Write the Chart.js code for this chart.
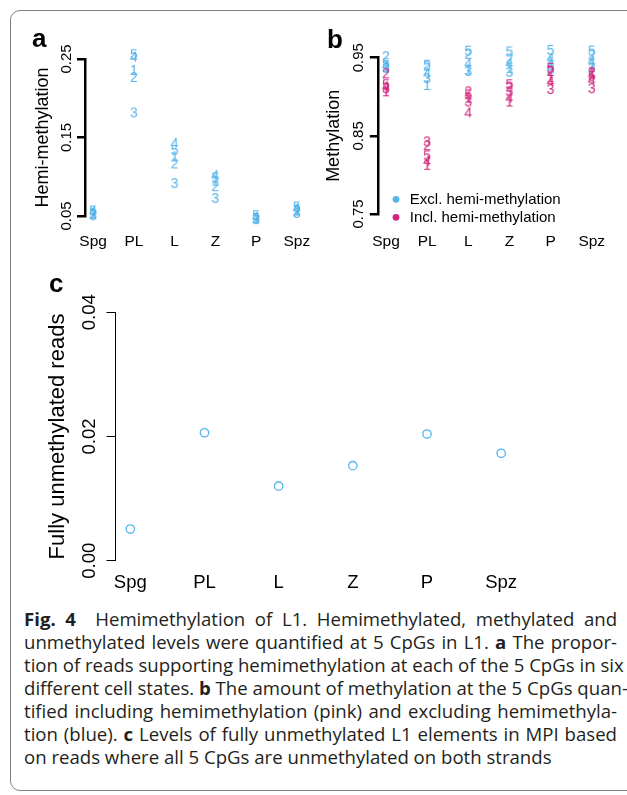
<!DOCTYPE html>
<html>
<head>
<meta charset="utf-8">
<script src="https://cdn.jsdelivr.net/npm/chart.js"></script>
<style>
  html, body { margin: 0; padding: 0; background: #fff; }
  body { width: 627px; height: 795px; position: relative; overflow: hidden; }
  .frame { position: absolute; left: 10px; top: 10px; width: 720px; height: 779px; border: 1.5px solid #808080; border-radius: 10px; }
  canvas { position: absolute; }
  #chartA { left: 0; top: 0; }
  #chartB { left: 318px; top: 0; }
  #chartC { left: 0; top: 265px; }
  .tag { position: absolute; font: bold 26px "Liberation Sans", Arial, sans-serif; line-height: 26px; color: #000; }
  .caption { position: absolute; left: 24px; top: 607px; width: 593px; font-family: "Open Sans", sans-serif; font-size: 18.6px; line-height: 23px; color: #231f20; }
  .caption div { text-align: justify; text-align-last: justify; white-space: nowrap; }
  .caption div.last { text-align-last: left; }
</style>
</head>
<body>
<div class="frame"></div>
<canvas id="chartA" width="318" height="265"></canvas>
<canvas id="chartB" width="309" height="265"></canvas>
<canvas id="chartC" width="627" height="330"></canvas>
<div class="tag" style="left:32px; top:25px;">a</div>
<div class="tag" style="left:327px; top:26px;">b</div>
<div class="tag" style="left:49px; top:270px;">c</div>
<div class="caption">
  <div><b>Fig. 4</b>&nbsp; Hemimethylation of L1. Hemimethylated, methylated and</div>
  <div>unmethylated levels were quantified at 5 CpGs in L1. <b>a</b> The propor-</div>
  <div>tion of reads supporting hemimethylation at each of the 5 CpGs in six</div>
  <div>different cell states. <b>b</b> The amount of methylation at the 5 CpGs quan-</div>
  <div>tified including hemimethylation (pink) and excluding hemimethyla-</div>
  <div>tion (blue). <b>c</b> Levels of fully unmethylated L1 elements in MPI based</div>
  <div class="last">on reads where all 5 CpGs are unmethylated on both strands</div>
</div>
<script>
const cellStates = ["Spg", "PL", "L", "Z", "P", "Spz"];
const cpgLabels = ["1", "2", "3", "4", "5"];

// panel a: hemi-methylation, one array per CpG (Spg..Spz)
const hemiCpg1 = [0.054, 0.236, 0.126, 0.095, 0.048, 0.058];
const hemiCpg2 = [0.053, 0.227, 0.117, 0.088, 0.047, 0.057];
const hemiCpg3 = [0.051, 0.182, 0.092, 0.073, 0.046, 0.054];
const hemiCpg4 = [0.056, 0.253, 0.143, 0.102, 0.049, 0.060];
const hemiCpg5 = [0.057, 0.256, 0.134, 0.099, 0.051, 0.062];
const yTicksA = [0.05, 0.15, 0.25];

// panel b: methylation excluding hemi-methylation (blue)
const exclCpg1 = [0.938, 0.915, 0.935, 0.937, 0.945, 0.942];
const exclCpg2 = [0.952, 0.940, 0.955, 0.949, 0.940, 0.954];
const exclCpg3 = [0.937, 0.924, 0.933, 0.932, 0.935, 0.937];
const exclCpg4 = [0.940, 0.930, 0.943, 0.943, 0.950, 0.946];
const exclCpg5 = [0.943, 0.941, 0.959, 0.958, 0.960, 0.959];
// panel b: methylation including hemi-methylation (pink)
const inclCpg1 = [0.907, 0.813, 0.899, 0.894, 0.925, 0.930];
const inclCpg2 = [0.930, 0.838, 0.907, 0.913, 0.933, 0.932];
const inclCpg3 = [0.911, 0.843, 0.894, 0.907, 0.910, 0.911];
const inclCpg4 = [0.913, 0.818, 0.880, 0.899, 0.920, 0.922];
const inclCpg5 = [0.916, 0.825, 0.903, 0.916, 0.937, 0.927];
const yTicksB = [0.75, 0.85, 0.95];
const legendLabels = ["Excl. hemi-methylation", "Incl. hemi-methylation"];

// panel c: fully unmethylated reads
const unmethylated = [0.0051, 0.0206, 0.0120, 0.0153, 0.0204, 0.0173];
const yTicksC = [0.00, 0.02, 0.04];

const BLUE = "#56B4E9";
const PINK = "#D3267D";

Chart.defaults.font.family = '"Liberation Sans", Arial, Helvetica, sans-serif';
Chart.defaults.color = "#000";

function digitSprite(label, color) {
  const c = document.createElement("canvas");
  c.width = 12;
  c.height = 16;
  const g = c.getContext("2d");
  g.font = '14px "Liberation Sans", Arial, sans-serif';
  g.fillStyle = color;
  g.textAlign = "center";
  g.textBaseline = "alphabetic";
  g.fillText(label, 6, 13);
  return c;
}

function toPoints(values) {
  return values.map((v, i) => ({ x: i + 1, y: v }));
}

function digitDataset(values, label, color) {
  return {
    label: label,
    data: toPoints(values),
    pointStyle: digitSprite(label, color),
    pointRadius: 12,
    pointHoverRadius: 12,
    clip: false,
  };
}

function xScale(height, fontSize, padding) {
  return {
    type: "linear",
    min: 0.8,
    max: 6.2,
    afterBuildTicks: (s) => { s.ticks = cellStates.map((_, i) => ({ value: i + 1 })); },
    afterFit: (s) => { s.height = height; s.paddingLeft = 0; s.paddingRight = 0; },
    border: { display: false },
    grid: { display: false, drawTicks: false },
    ticks: {
      autoSkip: false,
      maxRotation: 0,
      padding: padding,
      font: { size: fontSize },
      callback: (v) => cellStates[v - 1],
    },
  };
}

function yScale(opts) {
  return {
    min: opts.ticks[0],
    max: opts.ticks[opts.ticks.length - 1],
    afterBuildTicks: (s) => { s.ticks = opts.ticks.map((v) => ({ value: v })); },
    afterFit: (s) => { s.width = opts.width; s.paddingTop = 0; s.paddingBottom = 0; },
    border: { display: true, color: "#000", width: opts.lineWidth },
    grid: { drawOnChartArea: false, drawTicks: true, tickLength: opts.tickLength, color: "#000", lineWidth: opts.lineWidth },
    ticks: {
      minRotation: 90,
      maxRotation: 90,
      crossAlign: "center",
      padding: opts.tickPadding,
      font: { size: opts.tickFont },
      callback: (v) => Number(v).toFixed(2),
    },
    title: {
      display: true,
      text: opts.title,
      font: { size: opts.titleFont },
      padding: { top: opts.titlePadding, bottom: 0 },
    },
  };
}

const baseOptions = {
  responsive: false,
  animation: false,
  events: [],
  plugins: { legend: { display: false }, tooltip: { enabled: false } },
};

// panel a
new Chart(document.getElementById("chartA"), {
  type: "scatter",
  data: {
    datasets: [hemiCpg1, hemiCpg2, hemiCpg3, hemiCpg4, hemiCpg5].map((vals, i) =>
      digitDataset(vals, cpgLabels[i], BLUE)
    ),
  },
  options: {
    ...baseOptions,
    layout: { padding: { left: 0, top: 59, right: 11.2, bottom: 0 } },
    scales: {
      x: xScale(49, 15.5, 16),
      y: yScale({
        ticks: yTicksA, width: 85, lineWidth: 2.5, tickLength: 8, tickPadding: -4,
        tickFont: 15, title: "Hemi-methylation", titleFont: 18, titlePadding: 32,
      }),
    },
  },
});

// legend drawn in the lower left corner of panel b
const cornerLegend = {
  id: "cornerLegend",
  afterDraw(chart) {
    const { ctx, chartArea } = chart;
    const colors = [BLUE, PINK];
    ctx.save();
    ctx.font = '15px "Liberation Sans", Arial, sans-serif';
    ctx.textBaseline = "middle";
    legendLabels.forEach((text, i) => {
      const y = chartArea.bottom - 14.7 + i * 18;
      ctx.fillStyle = colors[i];
      ctx.beginPath();
      ctx.arc(chartArea.left + 18.2, y, 3.4, 0, Math.PI * 2);
      ctx.fill();
      ctx.fillStyle = "#000";
      ctx.fillText(text, chartArea.left + 32, y + 1);
    });
    ctx.restore();
  },
};

// panel b (pink first so it sits on top of blue)
const inclSets = [inclCpg1, inclCpg2, inclCpg3, inclCpg4, inclCpg5].map((vals, i) =>
  digitDataset(vals, cpgLabels[i], PINK)
);
const exclSets = [exclCpg1, exclCpg2, exclCpg3, exclCpg4, exclCpg5].map((vals, i) =>
  digitDataset(vals, cpgLabels[i], BLUE)
);

new Chart(document.getElementById("chartB"), {
  type: "scatter",
  data: { datasets: inclSets.concat(exclSets) },
  options: {
    ...baseOptions,
    layout: { padding: { left: 0, top: 57.7, right: 27, bottom: 0 } },
    scales: {
      x: xScale(51, 15.5, 18),
      y: yScale({
        ticks: yTicksB, width: 59.8, lineWidth: 2.5, tickLength: 8, tickPadding: -3.3,
        tickFont: 15, title: "Methylation", titleFont: 18, titlePadding: 5.7,
      }),
    },
  },
  plugins: [cornerLegend],
});

// panel c
new Chart(document.getElementById("chartC"), {
  type: "scatter",
  data: {
    datasets: [
      {
        label: "Fully unmethylated reads",
        data: toPoints(unmethylated),
        pointStyle: "circle",
        pointRadius: 4.2,
        pointBorderWidth: 1.3,
        borderColor: BLUE,
        backgroundColor: "rgba(0,0,0,0)",
        clip: false,
      },
    ],
  },
  options: {
    ...baseOptions,
    layout: { padding: { left: 0, top: 47.3, right: 111, bottom: 0 } },
    scales: {
      x: xScale(34.3, 18.5, 11.5),
      y: yScale({
        ticks: yTicksC, width: 115.5, lineWidth: 1, tickLength: 9, tickPadding: -1,
        tickFont: 18.5, title: "Fully unmethylated reads", titleFont: 22, titlePadding: 45,
      }),
    },
  },
});
</script>
</body>
</html>
